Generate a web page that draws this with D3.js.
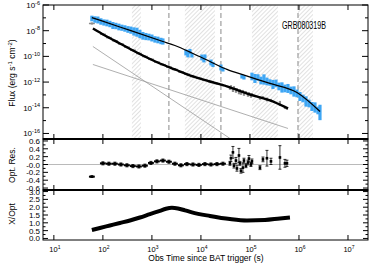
<!DOCTYPE html>
<html>
<head>
<meta charset="utf-8">
<script src="https://cdn.jsdelivr.net/npm/d3@7"></script>
<style>
  body { margin: 0; background: #fff; }
  text { font-family: "Liberation Sans", Arial, Helvetica, sans-serif; }
</style>
</head>
<body>
<svg id="chart" width="374" height="268"></svg>
<script>
// ---- data ----
// X-ray (XRT) light curve: time (s), flux, error in dex
const xrayT = [59.6, 68.7, 79.1, 91.0, 104.8, 120.7, 139, 160, 184, 212, 244, 281, 324, 373, 429, 494, 569, 655, 755, 869, 1000, 1151, 1325, 1527, 1676,
  4943, 5433, 5970, 6550, 10470, 11510, 12070, 16000, 17580, 25590, 28120, 68700, 75500,
  1.099e5, 1.265e5, 1.456e5, 1.676e5, 1.931e5, 2.222e5, 2.559e5, 2.946e5, 3.393e5, 3.906e5, 4.497e5, 5.178e5, 5.965e5, 6.869e5, 7.907e5, 9.104e5,
  1.048e6, 1.207e6, 1.390e6, 1.600e6, 1.842e6, 2.121e6, 2.442e6, 2.684e6];
const xrayF = [8.9e-8, 7.4e-8, 6.8e-8, 5.2e-8, 4.35e-8, 3.97e-8, 3.32e-8, 2.54e-8, 2.32e-8, 1.94e-8, 1.70e-8, 1.48e-8, 1.24e-8, 1.10e-8, 8.7e-9, 7.6e-9, 5.5e-9, 4.0e-9, 3.5e-9, 3.2e-9, 2.7e-9, 2.1e-9, 1.89e-9, 1.58e-9, 1.44e-9,
  2.01e-10, 1.41e-10, 2.40e-10, 1.18e-10, 8.2e-11, 5.74e-11, 9.8e-11, 3.35e-11, 2.34e-11, 1.37e-11, 9.57e-12, 2.73e-12, 2.28e-12,
  2.73e-12, 1.91e-12, 2.28e-12, 1.33e-12, 1.59e-12, 1.11e-12, 9.3e-13, 6.5e-13, 7.8e-13, 4.55e-13, 3.80e-13, 3.18e-13, 3.18e-13, 2.22e-13, 1.85e-13, 1.30e-13,
  7.57e-14, 5.30e-14, 3.09e-14, 2.16e-14, 1.26e-14, 1.05e-14, 6.16e-15, 4.31e-15];
const xrayErr = [0.22, 0.25, 0.27, 0.25, 0.24, 0.26, 0.25, 0.27, 0.25, 0.26, 0.24, 0.25, 0.26, 0.28, 0.32, 0.35, 0.33, 0.3, 0.28, 0.26, 0.27, 0.25, 0.26, 0.25, 0.24,
  0.23, 0.23, 0.2, 0.16, 0.23, 0.23, 0.16, 0.23, 0.2, 0.23, 0.16, 0.16, 0.16,
  0.3, 0.35, 0.25, 0.3, 0.4, 0.3, 0.25, 0.35, 0.3, 0.3, 0.4, 0.3, 0.35, 0.3, 0.4, 0.3,
  0.35, 0.3, 0.4, 0.3, 0.35, 0.4, 0.3, 0.6];

// optical light curve + fit residuals
const optT = [59.6, 100, 132.5, 175.8, 232.9, 309, 409.5, 543, 719.6, 954, 1265, 1676, 2222, 2944, 3906, 5178, 6870, 9104, 12070, 16000, 21220, 28120,
  39080, 40950, 44980, 47140, 51780, 54290, 59650, 62520, 65520, 71960, 75500, 82850, 91000, 95400, 1.048e5, 1.099e5,
  1.600e5, 1.842e5, 2.222e5, 2.684e5, 4.09e5, 5.178e5, 5.69e5];
const optF = [3.63e-8, 5.25e-9, 2.90e-9, 1.64e-9, 9.2e-10, 5.2e-10, 3.03e-10, 1.68e-10, 9.8e-11, 5.94e-11, 3.60e-11, 2.26e-11, 1.47e-11, 9.57e-12, 6.22e-12, 4.12e-12, 2.73e-12, 1.98e-12, 1.43e-12, 1.05e-12, 7.6e-13, 5.6e-13,
  3.18e-13, 4.55e-13, 2.22e-13, 3.80e-13, 1.85e-13, 2.65e-13, 1.55e-13, 2.22e-13, 1.30e-13, 1.85e-13, 1.08e-13, 1.55e-13, 9.06e-14, 1.30e-13, 7.57e-14, 1.08e-13,
  5.30e-14, 6.34e-14, 4.43e-14, 3.70e-14, 2.16e-14, 1.05e-14, 8.8e-15];
const optErr = [0.08, 0.08, 0.08, 0.08, 0.08, 0.08, 0.08, 0.08, 0.08, 0.08, 0.08, 0.08, 0.08, 0.08, 0.08, 0.08, 0.08, 0.08, 0.08, 0.08, 0.08, 0.08,
  0.1, 0.1, 0.12, 0.1, 0.1, 0.1, 0.14, 0.1, 0.1, 0.12, 0.1, 0.1, 0.1, 0.1, 0.1, 0.1,
  0.1, 0.1, 0.15, 0.1, 0.2, 0.12, 0.1];
const optBin = [0.06, 0.06, 0.06, 0.06, 0.06, 0.06, 0.06, 0.06, 0.06, 0.06, 0.06, 0.06, 0.06, 0.06, 0.06, 0.06, 0.06, 0.06, 0.06, 0.06, 0.06, 0.06,
  0.01, 0.01, 0.01, 0.01, 0.01, 0.01, 0.01, 0.01, 0.01, 0.01, 0.01, 0.01, 0.01, 0.01, 0.01, 0.01,
  0.01, 0.01, 0.01, 0.01, 0.01, 0.01, 0.01];
const optRes = [-0.31, 0.03, 0.02, 0.02, 0.0, -0.02, -0.04, -0.05, -0.03, 0.04, 0.08, 0.1, 0.07, 0.02, -0.02, 0.01, 0.0, -0.01, 0.01, 0.0, 0.01, 0.02,
  0.03, 0.16, 0.31, -0.03, 0.10, -0.10, 0.23, 0.03, -0.16, -0.08, 0.10, -0.03, 0.05, 0.15, 0.0, 0.08,
  -0.08, 0.13, 0.16, 0.08, 0.18, 0.03, 0.03];
const optResErr = [0.02, 0.04, 0.04, 0.04, 0.04, 0.04, 0.04, 0.04, 0.04, 0.04, 0.04, 0.04, 0.04, 0.04, 0.04, 0.04, 0.04, 0.04, 0.04, 0.04, 0.04, 0.04,
  0.05, 0.08, 0.15, 0.06, 0.08, 0.07, 0.18, 0.05, 0.06, 0.12, 0.06, 0.05, 0.06, 0.08, 0.05, 0.06,
  0.05, 0.06, 0.2, 0.08, 0.3, 0.1, 0.08];

// model curves
const xModelT = [59.6, 222, 1676, 2944, 6870, 15270, 33960, 7.9e4, 2.56e5, 9.1e5, 2.69e6];
const xModelF = [1.06e-7, 1.94e-8, 1.44e-9, 7.05e-10, 1.68e-10, 4.01e-11, 9.57e-12, 3.27e-12, 7.8e-13, 1.55e-13, 5.15e-15];
const oModelT = [62.5, 110, 222, 450, 790, 1456, 2944, 6870, 15270, 33960, 1.0e5, 2.56e5, 5.97e5];
const oModelF = [1.48e-8, 4.23e-9, 1.01e-9, 2.40e-10, 8.2e-11, 2.80e-11, 9.6e-12, 2.73e-12, 1.11e-12, 4.55e-13, 1.08e-13, 3.70e-14, 8.8e-15];
const compAT = [62.5, 39080], compAF = [5.9e-10, 4.1e-17];
const compBT = [62.5, 5.97e5], compBF = [2.34e-11, 2.45e-16];

// X / optical ratio
const ratioT = [59.6, 86.9, 139, 222, 356, 569, 910, 1456, 1932, 2560, 3393, 4710, 6550, 15270, 39080, 86900, 2.02e5, 4.09e5, 6.55e5];
const ratioV = [0.54, 0.67, 0.83, 0.99, 1.15, 1.34, 1.56, 1.77, 1.9, 1.96, 1.92, 1.8, 1.67, 1.44, 1.24, 1.15, 1.18, 1.28, 1.34];

// orbit gaps (hatched) and break times (dashed)
const gapStart = [391, 4710, 1.099e5, 9.55e5];
const gapEnd = [597, 19310, 3.72e5, 1.93e6];
const breakT = [2222, 25590, 9.55e5];

const xDecades = [1, 2, 3, 4, 5, 6, 7];
const fluxDecades = [-16, -15, -14, -13, -12, -11, -10, -9, -8, -7, -6];

// ---- layout ----
const svg = d3.select("#chart");
const L = 43, R = 368;
const P1 = [5, 139], P2 = [139, 190], P3 = [190, 240];

const x = d3.scaleLog().domain([6, 2.56e7]).range([L, R]);
const yF = d3.scaleLog().domain([3.7e-17, 1e-6]).range([P1[1], P1[0]]);
const yR = d3.scaleLinear().domain([-0.65, 0.65]).range([P2[1], P2[0]]);
const yX = d3.scaleLinear().domain([-0.1, 3.1]).range([P3[1], P3[0]]);

const defs = svg.append("defs");
defs.append("pattern").attr("id", "hatch")
  .attr("patternUnits", "userSpaceOnUse").attr("width", 3).attr("height", 3)
  .attr("patternTransform", "rotate(45)")
  .append("line").attr("x1", 0).attr("y1", 0).attr("x2", 0).attr("y2", 3)
  .attr("stroke", "#b4b4b4").attr("stroke-width", 0.8);
defs.append("clipPath").attr("id", "clip1").append("rect")
  .attr("x", L).attr("y", P1[0]).attr("width", R - L).attr("height", P1[1] - P1[0]);

const g1 = svg.append("g").attr("clip-path", "url(#clip1)");

// hatched gaps
g1.selectAll("rect.gap").data(d3.zip(gapStart, gapEnd)).join("rect")
  .attr("x", d => x(d[0])).attr("width", d => x(d[1]) - x(d[0]))
  .attr("y", P1[0]).attr("height", P1[1] - P1[0])
  .attr("fill", "url(#hatch)");

// dashed breaks
g1.selectAll("line.brk").data(breakT).join("line")
  .attr("x1", d => x(d)).attr("x2", d => x(d))
  .attr("y1", P1[0]).attr("y2", P1[1])
  .attr("stroke", "#8a8a8a").attr("stroke-width", 1).attr("stroke-dasharray", "5,3");

const lineF = d3.line().x(d => x(d[0])).y(d => yF(d[1]));

// thin component lines
[[compAT, compAF], [compBT, compBF]].forEach(c => {
  g1.append("path").datum(d3.zip(c[0], c[1])).attr("d", lineF)
    .attr("fill", "none").attr("stroke", "#9a9a9a").attr("stroke-width", 0.8);
});

// optical data (grey)
const opt = d3.zip(optT, optF, optErr, optBin);
g1.append("g").selectAll("line").data(opt).join("line")
  .attr("x1", d => x(d[0])).attr("x2", d => x(d[0]))
  .attr("y1", d => yF(d[1] * Math.pow(10, d[2]))).attr("y2", d => yF(d[1] / Math.pow(10, d[2])))
  .attr("stroke", "#8c8c8c").attr("stroke-width", 2.2);
g1.append("g").selectAll("line").data(opt).join("line")
  .attr("x1", d => x(d[0] / Math.pow(10, d[3]))).attr("x2", d => x(d[0] * Math.pow(10, d[3])))
  .attr("y1", d => yF(d[1])).attr("y2", d => yF(d[1]))
  .attr("stroke", "#8c8c8c").attr("stroke-width", 1.5);

// optical model
g1.append("path").datum(d3.zip(oModelT, oModelF)).attr("d", lineF.curve(d3.curveMonotoneX))
  .attr("fill", "none").attr("stroke", "#000").attr("stroke-width", 2.4);

// X-ray data (blue)
g1.append("g").selectAll("line").data(d3.zip(xrayT, xrayF, xrayErr)).join("line")
  .attr("x1", d => x(d[0])).attr("x2", d => x(d[0]))
  .attr("y1", d => yF(d[1] * Math.pow(10, d[2]))).attr("y2", d => yF(d[1] / Math.pow(10, d[2])))
  .attr("stroke", "#3ea6f4").attr("stroke-width", 3.2);

// X-ray model
g1.append("path").datum(d3.zip(xModelT, xModelF)).attr("d", lineF.curve(d3.curveMonotoneX))
  .attr("fill", "none").attr("stroke", "#000").attr("stroke-width", 1.3);

// ---- residual panel ----
const g2 = svg.append("g");
g2.append("line").attr("x1", L).attr("x2", R).attr("y1", yR(0)).attr("y2", yR(0))
  .attr("stroke", "#a8a8a8").attr("stroke-width", 0.8);
const res = d3.zip(optT, optRes, optResErr, optBin);
g2.selectAll("line.ev").data(res).join("line")
  .attr("x1", d => x(d[0])).attr("x2", d => x(d[0]))
  .attr("y1", d => yR(d[1] + d[2])).attr("y2", d => yR(d[1] - d[2]))
  .attr("stroke", "#000").attr("stroke-width", 0.8);
[1, -1].forEach(s => {
  g2.selectAll(null).data(res).join("line")
    .attr("x1", d => x(d[0]) - 1.5).attr("x2", d => x(d[0]) + 1.5)
    .attr("y1", d => yR(d[1] + s * d[2])).attr("y2", d => yR(d[1] + s * d[2]))
    .attr("stroke", "#000").attr("stroke-width", 0.8);
});
g2.selectAll(null).data(res).join("line")
  .attr("x1", d => x(d[0] / Math.pow(10, d[3]))).attr("x2", d => x(d[0] * Math.pow(10, d[3])))
  .attr("y1", d => yR(d[1])).attr("y2", d => yR(d[1]))
  .attr("stroke", "#000").attr("stroke-width", 2);
g2.selectAll("rect").data(res).join("rect")
  .attr("x", d => x(d[0]) - 1.3).attr("y", d => yR(d[1]) - 1.3)
  .attr("width", 2.6).attr("height", 2.6).attr("fill", "#000");

// ---- ratio panel ----
svg.append("path").datum(d3.zip(ratioT, ratioV))
  .attr("d", d3.line().x(d => x(d[0])).y(d => yX(d[1])).curve(d3.curveMonotoneX))
  .attr("fill", "none").attr("stroke", "#000").attr("stroke-width", 4);

// ---- frames and ticks ----
const ax = svg.append("g").attr("stroke", "#000").attr("stroke-width", 1);
[P1, P2, P3].forEach(p => {
  ax.append("rect").attr("x", L).attr("y", p[0]).attr("width", R - L).attr("height", p[1] - p[0])
    .attr("fill", "none");
  xDecades.forEach(k => {
    const xx = x(Math.pow(10, k));
    ax.append("line").attr("x1", xx).attr("x2", xx).attr("y1", p[1]).attr("y2", p[1] - 5);
    ax.append("line").attr("x1", xx).attr("x2", xx).attr("y1", p[0]).attr("y2", p[0] + 5);
  });
});
[P1[1], P2[1]].forEach(yy => {
  ax.append("line").attr("x1", L).attr("x2", R).attr("y1", yy).attr("y2", yy).attr("stroke-width", 2);
});

function yTicks(vals, scale, len) {
  vals.forEach((v, i) => {
    const yy = scale(v);
    ax.append("line").attr("x1", L).attr("x2", L + len(v, i)).attr("y1", yy).attr("y2", yy);
    ax.append("line").attr("x1", R).attr("x2", R - len(v, i)).attr("y1", yy).attr("y2", yy);
  });
}
yTicks(fluxDecades.map(e => Math.pow(10, e)), yF, (v, i) => (fluxDecades[i] % 2 === 0 ? 6 : 3));
yTicks(d3.range(-6, 7).map(k => k / 10), yR, (v, i) => (i % 2 === 0 ? 5 : 2.5));
yTicks(d3.range(0, 13).map(k => k / 4), yX, (v, i) => (i % 2 === 0 ? 5 : 2.5));

// ---- labels ----
const lab = svg.append("g").attr("fill", "#000");
fluxDecades.filter(e => e % 2 === 0).forEach(e => {
  const t = lab.append("text").attr("x", 40).attr("y", yF(Math.pow(10, e)) + 3)
    .attr("text-anchor", "end").attr("font-size", 8);
  t.append("tspan").text("10");
  t.append("tspan").attr("dy", -3.5).attr("font-size", 5.5).text("-" + Math.abs(e));
});
d3.range(-6, 7, 2).map(k => k / 10).forEach(v => {
  lab.append("text").attr("x", 40).attr("y", yR(v) + 3)
    .attr("text-anchor", "end").attr("font-size", 8)
    .text(v === 0 ? "-0.0" : d3.format(".1f")(v).replace("\u2212", "-"));
});
d3.range(0, 7).map(k => k / 2).forEach(v => {
  lab.append("text").attr("x", 40).attr("y", yX(v) + 3)
    .attr("text-anchor", "end").attr("font-size", 8)
    .text(d3.format(".1f")(v));
});
xDecades.forEach(k => {
  const t = lab.append("text").attr("x", x(Math.pow(10, k)) + 1).attr("y", 252)
    .attr("text-anchor", "middle").attr("font-size", 7.5);
  t.append("tspan").text("10");
  t.append("tspan").attr("dy", -3).attr("font-size", 5).text(k);
});

const fl = lab.append("text").attr("transform", "translate(15,73) rotate(-90)")
  .attr("text-anchor", "middle").attr("font-size", 8.5);
fl.append("tspan").text("Flux (erg s");
fl.append("tspan").attr("dy", -3).attr("font-size", 6).text("-1");
fl.append("tspan").attr("dy", 3).text(" cm");
fl.append("tspan").attr("dy", -3).attr("font-size", 6).text("-2");
fl.append("tspan").attr("dy", 3).text(")");

lab.append("text").attr("transform", "translate(15,165) rotate(-90)")
  .attr("text-anchor", "middle").attr("font-size", 8.5).text("Opt. Res.");
lab.append("text").attr("transform", "translate(15,214) rotate(-90)")
  .attr("text-anchor", "middle").attr("font-size", 8.5).text("X/Opt");
lab.append("text").attr("x", 206).attr("y", 261)
  .attr("text-anchor", "middle").attr("font-size", 8.5).text("Obs Time since BAT trigger (s)");
lab.append("text").attr("x", 282).attr("y", 29).attr("font-size", 11.5)
  .attr("textLength", 44).attr("lengthAdjust", "spacingAndGlyphs").text("GRB080319B");
</script>
</body>
</html>
